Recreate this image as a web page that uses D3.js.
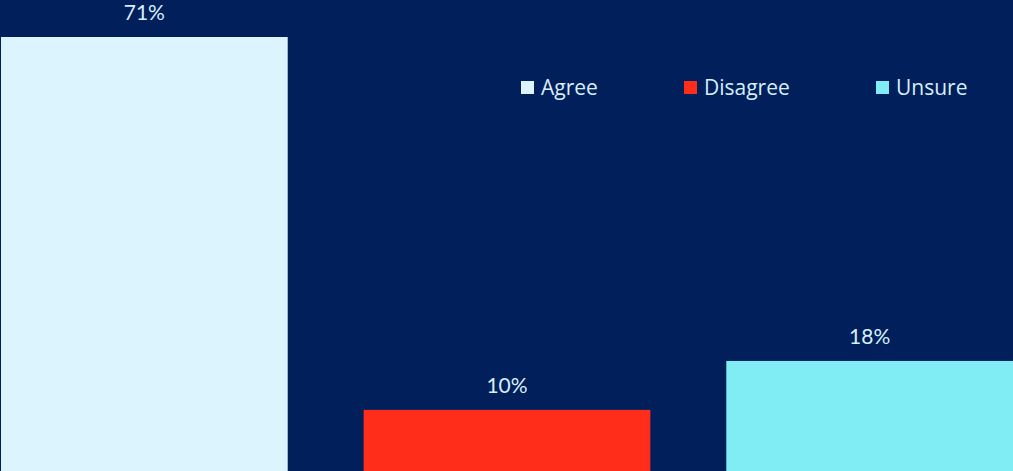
<!DOCTYPE html>
<html>
<head>
<meta charset="utf-8">
<script src="https://cdn.jsdelivr.net/npm/d3@7"></script>
<style>
  html, body { margin: 0; padding: 0; background: #001f5b; overflow: hidden; }
  .bar-label { font-family: Lato, sans-serif; font-size: 21px; fill: #d8eefa; }
  .legend-text { font-family: "Open Sans", sans-serif; font-size: 21px; fill: #d8eefa; }
</style>
</head>
<body>
<div class="chart-container"></div>
<script>
const categories = ["Agree", "Disagree", "Unsure"];
const values = [71, 10, 18];
const colors = ["#dcf4fd", "#ff2d1a", "#80ecf3"];

const width = 1013,
      height = 471;

const svg = d3.select(".chart-container").append("svg")
    .attr("width", width)
    .attr("height", height)
    .style("display", "block");

svg.append("rect")
    .attr("width", width)
    .attr("height", height)
    .attr("fill", "#001f5b");

const x = d3.scaleBand()
    .domain(categories)
    .range([1, width])
    .paddingInner(0.2094)
    .paddingOuter(0);

const y = d3.scaleLinear()
    .domain([0, 71])
    .range([471, 37]);

const color = d3.scaleOrdinal().domain(categories).range(colors);

const data = categories.map((c, i) => ({label: c, value: values[i]}));

svg.selectAll(".bar")
    .data(data)
  .enter().append("rect")
    .attr("class", "bar")
    .attr("x", (d) => x(d.label))
    .attr("y", (d) => y(d.value))
    .attr("width", x.bandwidth())
    .attr("height", (d) => y(0) - y(d.value))
    .attr("fill", (d) => color(d.label));

svg.selectAll(".bar-label")
    .data(data)
  .enter().append("text")
    .attr("class", "bar-label")
    .attr("x", (d) => x(d.label) + x.bandwidth() / 2)
    .attr("y", (d) => y(d.value) - 17)
    .attr("text-anchor", "middle")
    .text((d) => `${d.value}%`);

// legend
const legendX = [521, 684, 876];
const legend = svg.selectAll(".legend")
    .data(categories)
  .enter().append("g")
    .attr("class", "legend")
    .attr("transform", (d, i) => "translate(" + legendX[i] + ",81)");

legend.append("rect")
    .attr("width", 13)
    .attr("height", 13)
    .attr("fill", (d) => color(d));

legend.append("text")
    .attr("class", "legend-text")
    .attr("x", 20)
    .attr("y", 14)
    .text((d) => d);
</script>
</body>
</html>
